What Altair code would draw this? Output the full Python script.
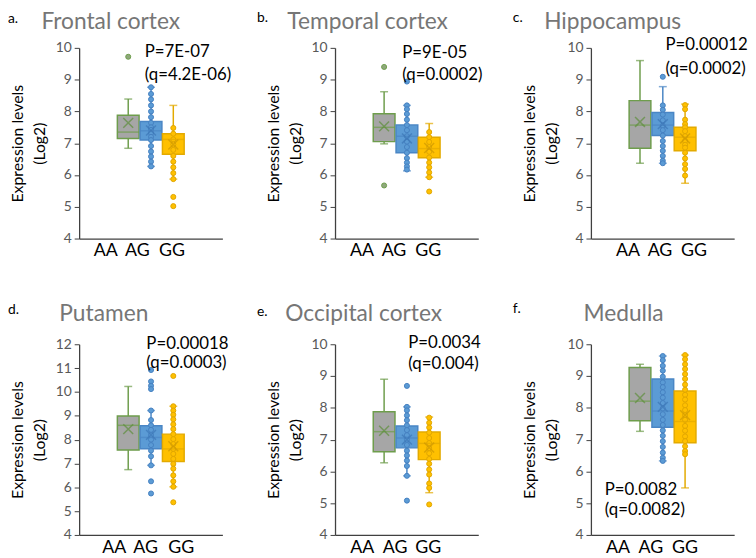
import altair as alt
import pandas as pd

# ---------------- data ----------------
regions = ["Frontal cortex", "Temporal cortex", "Hippocampus",
           "Putamen", "Occipital cortex", "Medulla"]
letters = ["a.", "b.", "c.", "d.", "e.", "f."]
genotypes = ["AA", "AG", "GG"]
y_max = [10, 10, 10, 12, 10, 10]
p_text = ["P=7E-07", "P=9E-05", "P=0.00012", "P=0.00018", "P=0.0034", "P=0.0082"]
q_text = ["(q=4.2E-06)", "(q=0.0002)", "(q=0.0002)", "(q=0.0003)", "(q=0.004)", "(q=0.0082)"]

# box statistics: [lower whisker, Q1, median, Q3, upper whisker, mean]
frontal_box = {"AA": [6.84, 7.15, 7.35, 7.88, 8.39, 7.64],
               "AG": [6.27, 7.10, 7.39, 7.68, 8.76, 7.40],
               "GG": [5.87, 6.65, 7.12, 7.30, 8.19, 6.96]}
temporal_box = {"AA": [6.98, 7.05, 7.50, 7.93, 8.62, 7.53],
                "AG": [6.13, 6.70, 7.22, 7.57, 8.19, 7.15],
                "GG": [5.93, 6.54, 6.83, 7.19, 7.62, 6.85]}
hippocampus_box = {"AA": [6.37, 6.84, 7.57, 8.34, 9.60, 7.67],
                   "AG": [6.37, 7.24, 7.57, 7.97, 8.78, 7.60],
                   "GG": [5.74, 6.76, 7.19, 7.50, 8.23, 7.15]}
putamen_box = {"AA": [6.74, 7.56, 8.60, 8.99, 10.23, 8.44],
               "AG": [6.92, 7.62, 8.09, 8.58, 9.22, 8.20],
               "GG": [6.02, 7.08, 7.61, 8.23, 9.40, 7.72]}
occipital_box = {"AA": [6.27, 6.62, 7.25, 7.88, 8.90, 7.28],
                 "AG": [5.86, 6.74, 7.05, 7.43, 8.03, 7.00],
                 "GG": [5.33, 6.37, 6.88, 7.24, 7.71, 6.75]}
medulla_box = {"AA": [7.26, 7.59, 8.21, 9.27, 9.37, 8.31],
               "AG": [6.33, 7.39, 7.90, 8.91, 9.63, 8.03],
               "GG": [5.48, 6.90, 7.57, 8.53, 9.66, 7.77]}

# individual points shown (inner points and outliers)
frontal_pts = {"AA": [9.72],
               "AG": [8.76, 8.55, 8.38, 8.19, 8.00, 7.82, 7.64, 7.50, 7.42, 7.32, 7.20,
                      7.10, 6.91, 6.74, 6.58, 6.42, 6.27],
               "GG": [7.48, 7.30, 7.12, 6.96, 6.79, 6.60, 6.42, 6.24, 6.06, 5.87, 5.31, 5.02]}
temporal_pts = {"AA": [9.40, 5.67],
                "AG": [8.94, 8.19, 8.07, 7.92, 7.74, 7.57, 7.41, 7.22, 7.05, 6.88, 6.70,
                       6.53, 6.39, 6.27, 6.17],
                "GG": [7.35, 7.19, 7.04, 6.88, 6.73, 6.55, 6.39, 6.24, 6.08, 5.93, 5.48]}
hippocampus_pts = {"AA": [],
                   "AG": [9.09, 8.19, 8.05, 7.90, 7.72, 7.55, 7.41, 7.24, 7.07, 6.91, 6.76,
                          6.60, 6.45, 6.37],
                   "GG": [8.20, 8.07, 7.74, 7.60, 7.50, 7.38, 7.22, 7.07, 6.95, 6.86, 6.70,
                          6.52, 6.34, 6.19, 5.98]}
putamen_pts = {"AA": [],
               "AG": [10.92, 10.44, 10.26, 10.12, 9.22, 8.82, 8.60, 8.41, 8.19, 8.00, 7.77,
                      7.54, 7.30, 6.92, 6.25, 5.74],
               "GG": [10.67, 9.40, 9.22, 9.04, 8.85, 8.64, 8.44, 8.23, 8.02, 7.81, 7.61,
                      7.40, 7.19, 6.98, 6.78, 6.50, 6.25, 6.02, 5.37]}
occipital_pts = {"AA": [],
                 "AG": [8.69, 8.03, 7.92, 7.76, 7.61, 7.45, 7.30, 7.14, 7.00, 6.83, 6.65,
                        6.50, 6.34, 6.17, 5.86, 5.08],
                 "GG": [7.69, 7.53, 7.38, 7.22, 7.05, 6.89, 6.73, 6.57, 6.39, 6.24, 6.06,
                        5.90, 5.62, 5.48, 4.96]}
medulla_pts = {"AA": [],
               "AG": [9.63, 9.50, 9.32, 9.17, 8.98, 8.80, 8.65, 8.49, 8.32, 8.15, 7.98,
                      7.80, 7.62, 7.46, 7.29, 7.12, 6.95, 6.77, 6.59, 6.43, 6.33],
               "GG": [9.66, 9.53, 9.37, 9.22, 9.06, 8.91, 8.73, 8.57, 8.41, 8.26, 8.08,
                      7.93, 7.77, 7.62, 7.43, 7.28, 7.10, 6.95, 6.79, 6.64, 6.54]}

box_stats = [frontal_box, temporal_box, hippocampus_box, putamen_box, occipital_box, medulla_box]
points = [frontal_pts, temporal_pts, hippocampus_pts, putamen_pts, occipital_pts, medulla_pts]

# ---------------- layout / style ----------------
W, H = 145, 193
FONT = "Lato"
BOX_POS = {"AA": 0.331, "AG": 0.502, "GG": 0.669}
LABEL_POS = [[0.162, 0.400, 0.659], [0.166, 0.405, 0.662], [0.241, 0.481, 0.736],
             [0.226, 0.462, 0.729], [0.168, 0.414, 0.662], [0.166, 0.412, 0.669]]
P_X = [0.455, 0.467, 0.522, 0.467, 0.512, 0.067]
P_Y = [9.71, 9.68, 9.92, 11.80, 9.87, 5.25]
Q_Y = [8.99, 8.98, 9.19, 11.00, 9.22, 4.63]
TITLE_X = [32, 33, 22, 25, 29, 33]
TITLE_Y = [-19, -19, -19, -24, -24, -24]
LETTER_X = [-72, -79, -79, -72, -79, -79]
LETTER_Y = [-25, -26, -26, -31, -29, -32]

BOX_FILL = {"AA": "#a6a6a6", "AG": "#5b9bd5", "GG": "#ffc000"}
BOX_EDGE = {"AA": "#6e9d4c", "AG": "#4a86c5", "GG": "#e3aa00"}
MEAN_COL = {"AA": "#5e8f3c", "AG": "#3d78b8", "GG": "#d09a00"}
DOT_FILL = {"AA": "#8fa87c", "AG": "#5b9bd5", "GG": "#ffc000"}
DOT_EDGE = {"AA": "#6e9d4c", "AG": "#4580c0", "GG": "#e0a600"}
AXIS_COL = "#404040"


def panel(i):
    rows = []
    for g in genotypes:
        lw, q1, med, q3, uw, mean = box_stats[i][g]
        rows.append(dict(genotype=g, pos=BOX_POS[g], lw=lw, q1=q1, med=med, q3=q3,
                         uw=uw, mean=mean, fill=BOX_FILL[g], edge=BOX_EDGE[g],
                         meancol=MEAN_COL[g]))
    box_df = pd.DataFrame(rows)
    pts_df = pd.DataFrame([dict(genotype=g, pos=BOX_POS[g], value=v,
                                fill=DOT_FILL[g], edge=DOT_EDGE[g])
                           for g in genotypes for v in points[i][g]])
    lab_df = pd.DataFrame(dict(label=genotypes, lpos=LABEL_POS[i]))
    ann_df = pd.DataFrame(dict(text=[p_text[i], q_text[i]], ax=[P_X[i], P_X[i]],
                               ay=[P_Y[i], Q_Y[i]]))
    ttl_df = pd.DataFrame(dict(text=[regions[i]]))
    let_df = pd.DataFrame(dict(text=[letters[i]]))

    xscale = alt.Scale(domain=[0, 1], nice=False, zero=False)
    xaxis = alt.Axis(title=None, labels=False, ticks=False, grid=False,
                     domainColor=AXIS_COL, domainWidth=1.3)
    yscale = alt.Scale(domain=[4, y_max[i]], nice=False, zero=False)
    tick_vals = [float(v) for v in range(4, y_max[i] + 1)]
    yaxis = alt.Axis(values=tick_vals, tickCount=len(tick_vals),
                     title=["Expression levels", "(Log2)"],
                     titleX=-57, titleY=H / 2, titleAngle=270, titleAlign="center",
                     titleBaseline="alphabetic", titleFont=FONT, titleFontSize=16,
                     titleFontWeight="normal", titleColor="#000000", titleLineHeight=22,
                     labelFont=FONT, labelFontSize=14, labelColor="#595959",
                     labelOverlap=False, labelPadding=3, tickSize=5,
                     tickColor=AXIS_COL, grid=False,
                     domainColor=AXIS_COL, domainWidth=1.3)

    def X(field):
        return alt.X(field, type="quantitative", scale=xscale, axis=xaxis)

    def Y(field):
        return alt.Y(field, type="quantitative", scale=yscale, axis=yaxis)

    whisker = alt.Chart(box_df).mark_rule(strokeWidth=1.5).encode(
        x=X("pos"), y=Y("lw"), y2="uw", color=alt.Color("edge:N", scale=None))
    cap_lo = alt.Chart(box_df).mark_tick(orient="horizontal", size=8, thickness=1.5).encode(
        x=X("pos"), y=Y("lw"), color=alt.Color("edge:N", scale=None))
    cap_hi = alt.Chart(box_df).mark_tick(orient="horizontal", size=8, thickness=1.5).encode(
        x=X("pos"), y=Y("uw"), color=alt.Color("edge:N", scale=None))
    box = alt.Chart(box_df).mark_bar(width=22, strokeWidth=1.5, orient="vertical").encode(
        x=X("pos"), y=Y("q1"), y2="q3",
        fill=alt.Fill("fill:N", scale=None), stroke=alt.Stroke("edge:N", scale=None))
    dots = alt.Chart(pts_df).mark_circle(size=26, opacity=1, strokeWidth=1).encode(
        x=X("pos"), y=Y("value"),
        fill=alt.Fill("fill:N", scale=None), stroke=alt.Stroke("edge:N", scale=None))
    median = alt.Chart(box_df).mark_tick(orient="horizontal", size=22, thickness=1.5).encode(
        x=X("pos"), y=Y("med"), color=alt.Color("edge:N", scale=None))
    mean = alt.Chart(box_df).mark_point(shape="M-1,-1L1,1M-1,1L1,-1", size=100,
                                        strokeWidth=1.5, filled=False).encode(
        x=X("pos"), y=Y("mean"), stroke=alt.Stroke("meancol:N", scale=None))
    xlabels = alt.Chart(lab_df).mark_text(font=FONT, fontSize=18, color="#000000",
                                          baseline="alphabetic", dy=18).encode(
        x=X("lpos"), y=alt.value(H), text="label:N")
    ptxt = alt.Chart(ann_df).mark_text(font=FONT, fontSize=17, color="#000000",
                                       align="left", baseline="alphabetic").encode(
        x=X("ax"), y=Y("ay"), text="text:N")
    title = alt.Chart(ttl_df).mark_text(font=FONT, fontSize=23, color="#767676",
                                        align="center", baseline="alphabetic").encode(
        x=alt.value(TITLE_X[i]), y=alt.value(TITLE_Y[i]), text="text:N")
    letter = alt.Chart(let_df).mark_text(font=FONT, fontSize=14, color="#000000",
                                         align="left", baseline="alphabetic").encode(
        x=alt.value(LETTER_X[i]), y=alt.value(LETTER_Y[i]), text="text:N")

    return alt.layer(whisker, cap_lo, cap_hi, box, dots, median, mean,
                     xlabels, ptxt, title, letter).properties(width=W, height=H)


chart = alt.concat(*[panel(i) for i in range(6)], columns=3,
                   spacing=alt.RowColnumber(row=107, column=114),
                   bounds="flush").properties(padding=0).configure_view(stroke=None)

chart.save("out.html", embed_options={"renderer": "svg", "actions": False})
